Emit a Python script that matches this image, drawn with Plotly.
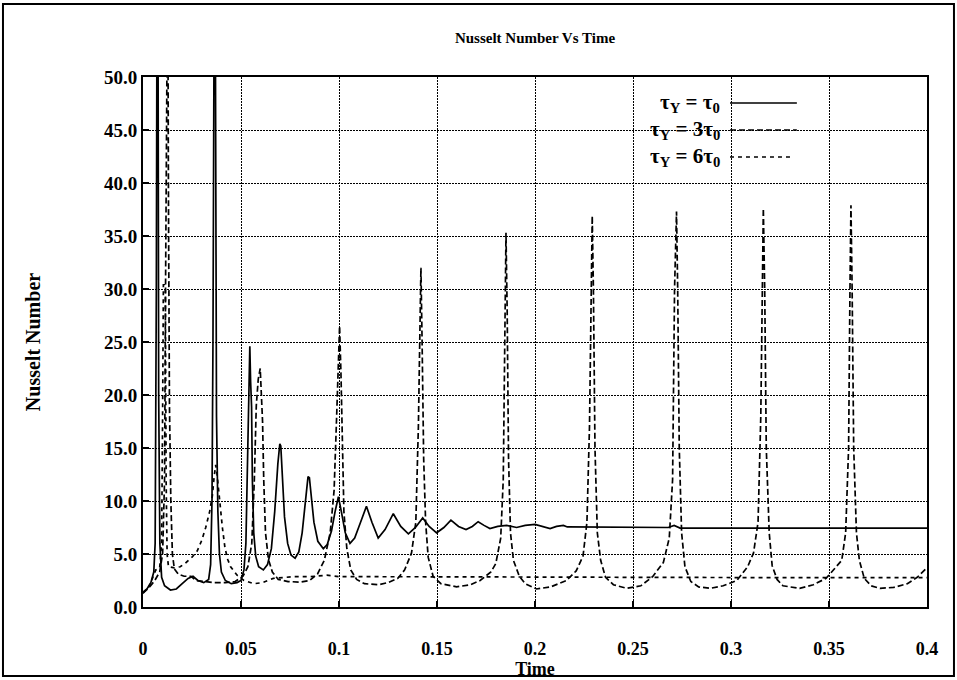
import plotly.graph_objects as go

# ---------------- data ----------------
time_tau1 = [0, 0.002, 0.004, 0.0055, 0.0062, 0.0068, 0.0072, 0.0076, 0.008, 0.0086, 0.0095,
             0.011, 0.014, 0.017, 0.02, 0.023, 0.0255, 0.028, 0.031, 0.0335, 0.0345, 0.0352,
             0.0357, 0.0361, 0.0364, 0.0368, 0.0371, 0.0375, 0.0382, 0.039, 0.040, 0.042, 0.045,
             0.048, 0.05, 0.0515, 0.0525, 0.0532, 0.0538, 0.0545, 0.0549, 0.0554, 0.0558, 0.0565,
             0.0575, 0.059, 0.0614, 0.0635, 0.0655, 0.0672, 0.0688, 0.0698, 0.0703, 0.0712,
             0.0722, 0.0738, 0.0755, 0.0776, 0.0795, 0.0812, 0.0828, 0.0842, 0.0849, 0.0857,
             0.0872, 0.0892, 0.092, 0.094, 0.0962, 0.098, 0.0997, 0.1012, 0.1032, 0.1056, 0.108,
             0.111, 0.114, 0.1168, 0.120, 0.1235, 0.1277, 0.1315, 0.1354, 0.139, 0.1427, 0.146,
             0.1498, 0.1535, 0.1571, 0.161, 0.1648, 0.168, 0.171, 0.174, 0.177, 0.181, 0.1855,
             0.1906, 0.195, 0.2, 0.204, 0.2077, 0.211, 0.2145, 0.2165, 0.25, 0.268, 0.271, 0.274,
             0.3, 0.35, 0.4]
nu_tau1 = [1.4, 1.7, 2.3, 3.3, 6, 30, 62, 62, 20, 6, 2.8,
           2.0, 1.6, 1.7, 2.2, 2.7, 2.9, 2.5, 2.3, 2.6, 4, 10,
           25, 41, 62, 62, 30, 18, 9, 5, 3.3, 2.5, 2.2,
           2.3, 2.5, 3.5, 6, 12, 20, 24.6, 21.3, 18.9, 12, 7,
           4.8, 3.8, 3.5, 4.0, 5.5, 9, 13.5, 15.4, 15.2, 12,
           8.5, 6, 4.9, 4.6, 5.2, 7, 9.8, 12.3, 12.2, 10.5,
           8, 6.2, 5.5, 5.9, 7.2, 9, 10.4, 9, 7, 6.0, 6.5,
           8, 9.5, 8, 6.5, 7.3, 8.8, 7.6, 6.9, 7.5, 8.4, 7.6,
           7.0, 7.5, 8.2, 7.6, 7.3, 7.6, 8.05, 7.7, 7.4, 7.6, 7.7,
           7.5, 7.7, 7.8, 7.6, 7.4, 7.6, 7.7, 7.55, 7.55, 7.5, 7.7, 7.45,
           7.45, 7.45, 7.45]

time_tau3 = [0, 0.003, 0.006, 0.0085, 0.010, 0.011, 0.0115, 0.0119, 0.0126, 0.013, 0.0135,
             0.0142, 0.015, 0.016, 0.018, 0.021, 0.0245, 0.027, 0.031, 0.036, 0.042, 0.047,
             0.051, 0.0535, 0.0555, 0.0568, 0.0578, 0.0588, 0.0598, 0.0604, 0.061, 0.0616,
             0.0625, 0.064, 0.066, 0.069, 0.074, 0.08, 0.085, 0.089, 0.0925, 0.0955, 0.0975,
             0.0988, 0.0996, 0.1003, 0.101, 0.1017, 0.1025, 0.104, 0.106, 0.109, 0.113, 0.12,
             0.125, 0.13, 0.1335, 0.137, 0.1392, 0.1405, 0.1413, 0.1418, 0.1424, 0.1432, 0.1442,
             0.1455, 0.148, 0.152, 0.16, 0.167, 0.172, 0.1775, 0.18, 0.1825, 0.1838, 0.1847,
             0.1852, 0.1858, 0.1865, 0.1875, 0.189, 0.192, 0.195, 0.2008, 0.208, 0.216, 0.221,
             0.2245, 0.2265, 0.2278, 0.2285, 0.2292, 0.2298, 0.2306, 0.2318, 0.2335, 0.236, 0.24,
             0.2468, 0.254, 0.260, 0.2655, 0.2685, 0.2702, 0.2712, 0.2722, 0.2728, 0.2736, 0.2748,
             0.2765, 0.2795, 0.2835, 0.2893, 0.296, 0.303, 0.3085, 0.3115, 0.3138, 0.3152, 0.316,
             0.3165, 0.3172, 0.318, 0.3195, 0.321, 0.3235, 0.3265, 0.335, 0.342, 0.3485, 0.353,
             0.3565, 0.3585, 0.36, 0.3607, 0.3612, 0.3618, 0.3626, 0.364, 0.3655, 0.368, 0.3715,
             0.376, 0.383, 0.390, 0.395, 0.4]
nu_tau3 = [1.3, 1.8, 2.5, 3.3, 5, 12, 30, 62, 62, 38, 19,
           10, 5, 3.6, 3.1, 2.9, 2.9, 2.5, 2.4, 2.3, 2.3, 2.4,
           2.9, 3.8, 6, 12, 19, 21.5, 22.5, 19.5, 17.5, 12,
           7, 4.5, 3.3, 2.6, 2.4, 2.35, 2.5, 3.1, 4.4, 7, 11,
           18, 24, 26.5, 22, 14, 9, 5.5, 3.5, 2.6, 2.2, 2.1,
           2.3, 2.7, 3.5, 5.1, 8, 17, 28, 32, 25, 14, 8,
           4.7, 2.9, 2.2, 1.9, 2.1, 2.5, 3.3, 4.1, 6.5, 12, 30,
           35.3, 28, 14, 7, 4.4, 2.9, 2.2, 1.7, 1.9, 2.5, 3.4,
           4.8, 8, 17, 30, 36.9, 30, 15, 7, 4.4, 2.8, 2.1,
           1.76, 2.0, 2.86, 4.2, 6.5, 12, 30, 37.3, 30, 15, 7,
           3.8, 2.4, 1.9, 1.76, 2.0, 2.5, 3.8, 5.1, 8, 18, 30,
           37.6, 30, 15, 7, 3.9, 2.6, 2.0, 1.76, 2.1, 2.7, 3.6,
           4.4, 7, 15, 30, 37.9, 30, 15, 7, 4.4, 2.7, 2.0,
           1.76, 1.85, 2.2, 2.8, 3.7]

time_tau6 = [0, 0.003, 0.005, 0.0065, 0.0085, 0.0095, 0.010, 0.0104, 0.0109, 0.0114, 0.0118,
             0.0123, 0.013, 0.016, 0.019, 0.022, 0.025, 0.0277, 0.030, 0.032, 0.034, 0.0354,
             0.0363, 0.0371, 0.0378, 0.0388, 0.0397, 0.0405, 0.0418, 0.0432, 0.0447, 0.048,
             0.0515, 0.0566, 0.061, 0.0665, 0.0767, 0.085, 0.0937, 0.1, 0.15, 0.2, 0.25, 0.3,
             0.35, 0.4]
nu_tau6 = [1.3, 1.9, 2.8, 3.5, 3.7, 6, 18, 30.4, 30.4, 30, 12,
           5, 3.8, 3.7, 3.8, 4.2, 4.7, 5.3, 6.3, 7.5, 9, 10.5,
           12.3, 13.4, 12.5, 10.5, 8.8, 7.5, 5.6, 4.5, 3.8, 3.0,
           2.5, 2.2, 2.3, 2.7, 2.86, 2.86, 3.0, 2.86, 2.85, 2.8, 2.8, 2.78,
           2.78, 2.78]

x_ticks = [0, 0.05, 0.1, 0.15, 0.2, 0.25, 0.3, 0.35, 0.4]
x_tick_labels = ["0", "0.05", "0.1", "0.15", "0.2", "0.25", "0.3", "0.35", "0.4"]
y_ticks = [0, 5, 10, 15, 20, 25, 30, 35, 40, 45, 50]
y_tick_labels = ["0.0", "5.0", "10.0", "15.0", "20.0", "25.0", "30.0", "35.0", "40.0", "45.0", "50.0"]

series_names = ["τ<sub>Y</sub> = τ<sub>0</sub>",
                "τ<sub>Y</sub> = 3τ<sub>0</sub>",
                "τ<sub>Y</sub> = 6τ<sub>0</sub>"]
series_dash = ["solid", "6px,3px", "4px,4px"]

# ---------------- figure ----------------
FONT = "Liberation Serif"
fig = go.Figure()
for xs, ys, name, dash in zip([time_tau1, time_tau3, time_tau6],
                              [nu_tau1, nu_tau3, nu_tau6],
                              series_names, series_dash):
    fig.add_trace(go.Scatter(x=xs, y=ys, mode="lines", name=name,
                             line=dict(color="black", width=1.7, dash=dash),
                             showlegend=False))

# custom legend (text on the left, sample line on the right)
leg_y = [0.951, 0.900, 0.849]
leg_x_end = [0.834, 0.834, 0.829]
for name, dash, yy, xe in zip(series_names, series_dash, leg_y, leg_x_end):
    fig.add_annotation(xref="paper", yref="paper", x=0.7385, y=yy, text=name,
                       showarrow=False, xanchor="right", yanchor="middle",
                       font=dict(family=FONT, size=21, color="black", weight="bold"))
    fig.add_shape(type="line", xref="paper", yref="paper", x0=0.7487, x1=xe, y0=yy, y1=yy,
                  line=dict(color="black", width=1.5, dash=dash))

# outer frame around the whole picture
fig.add_shape(type="rect", xref="paper", yref="paper", x0=-0.1786, x1=1.0344,
              y0=-0.130, y1=1.1377, line=dict(color="black", width=2), layer="above")

fig.update_layout(
    width=957, height=680,
    margin=dict(l=143, r=30, t=77, b=73),
    paper_bgcolor="white", plot_bgcolor="white",
    title=dict(text="Nusselt Number Vs Time", x=0.5, xref="paper", xanchor="center",
               y=1 - 38 / 680, yref="container", yanchor="middle",
               font=dict(family=FONT, size=15, color="black", weight="bold")),
    font=dict(family=FONT, color="black"),
)
fig.update_xaxes(range=[0, 0.4], tickvals=x_ticks, ticktext=x_tick_labels,
                 showgrid=True, gridcolor="black", gridwidth=1, griddash="2px,1px",
                 showline=True, linecolor="black", linewidth=2, mirror=True,
                 ticks="inside", ticklen=6, tickwidth=2, tickcolor="black",
                 ticklabelstandoff=24, zeroline=False, automargin=False,
                 tickfont=dict(family=FONT, size=18, color="black", weight="bold"),
                 title=dict(text="Time", standoff=0,
                            font=dict(family=FONT, size=18, color="black", weight="bold")))
fig.update_yaxes(range=[0, 50], tickvals=y_ticks, ticktext=y_tick_labels,
                 showgrid=True, gridcolor="black", gridwidth=1, griddash="2px,1px",
                 showline=True, linecolor="black", linewidth=2, mirror=True,
                 ticks="inside", ticklen=6, tickwidth=2, tickcolor="black",
                 zeroline=False, automargin=False,
                 tickfont=dict(family=FONT, size=19, color="black", weight="bold"),
                 title=dict(text="Nusselt Number", standoff=58,
                            font=dict(family=FONT, size=20, color="black", weight="bold")))

fig.write_html("out.html")
